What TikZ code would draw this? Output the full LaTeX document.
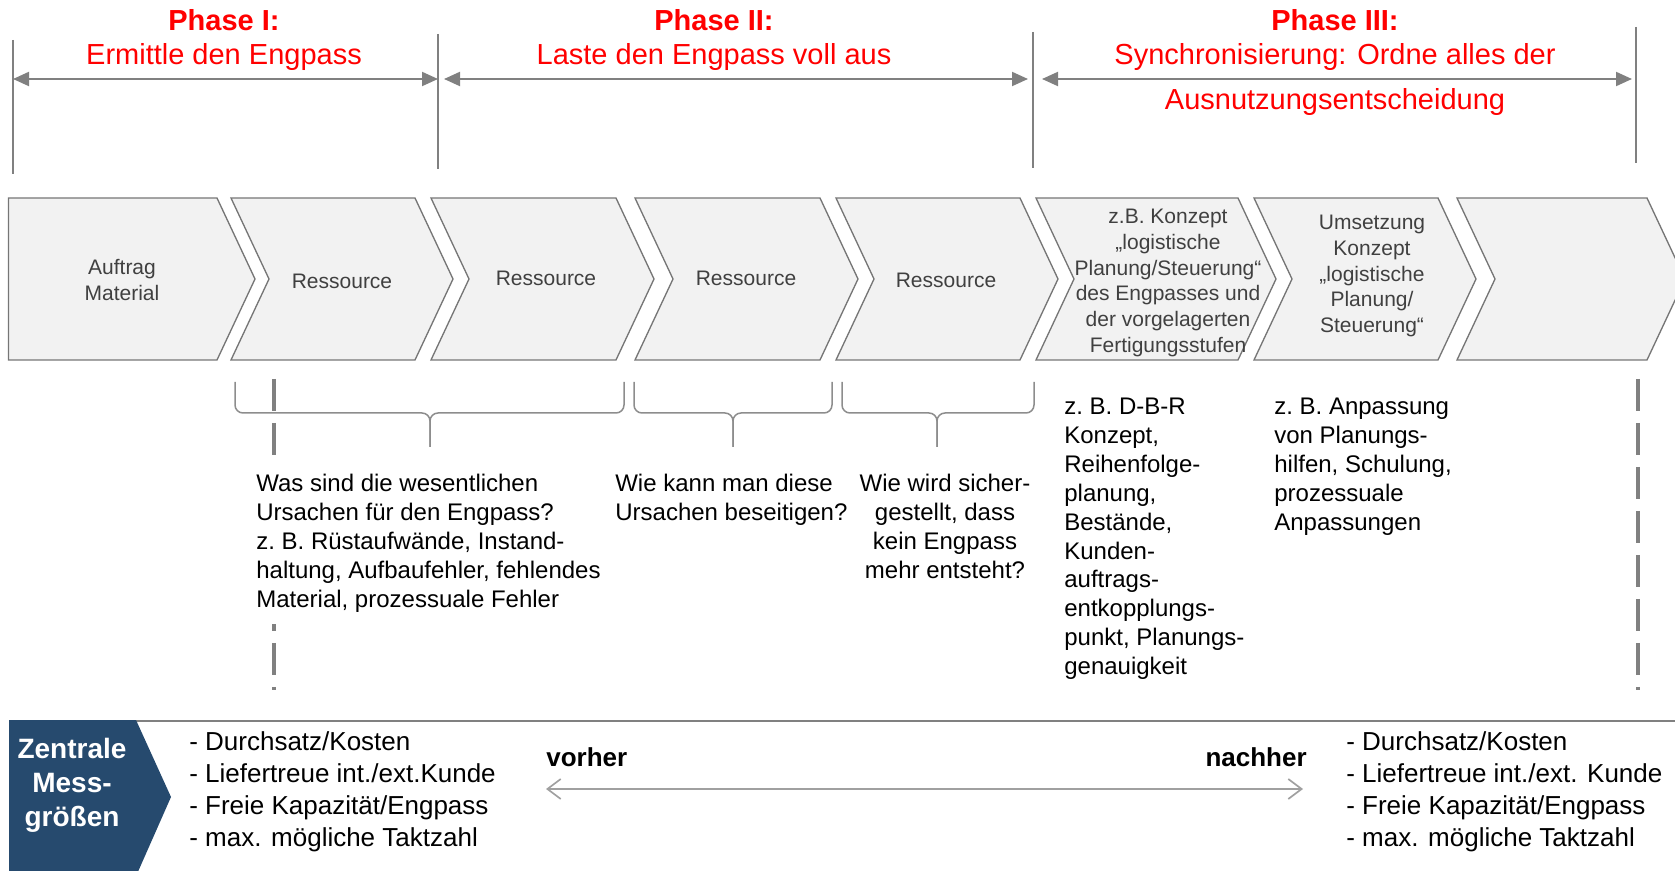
\documentclass[tikz,border=0pt]{standalone}
\usepackage{fontspec}
\setmainfont{Liberation Sans}
\usepackage{tikz}
\usetikzlibrary{arrows.meta, positioning}

\definecolor{phasered}{RGB}{255,0,0}
\definecolor{linegrey}{RGB}{128,128,128}
\definecolor{chevfill}{RGB}{242,242,242}
\definecolor{chevline}{RGB}{118,118,118}
\definecolor{chevtext}{RGB}{64,64,64}
\definecolor{boxblue}{RGB}{38,74,110}
\definecolor{lightgrey}{RGB}{160,160,160}

\tikzset{
  chevron/.style={draw=chevline, fill=chevfill, line width=0.8pt},
  chevlabel/.style={text=chevtext, align=center, inner sep=0pt, font=\fontsize{12.6}{15.4}\selectfont},
  phaseline/.style={draw=linegrey, line width=1pt},
  phasearrow/.style={draw=linegrey, line width=1.2pt, <->, >={Triangle[length=9.6pt,width=8.4pt]}},
  phasetitle/.style={text=phasered, anchor=base, inner sep=0pt, font=\fontsize{17.4}{20}\selectfont\bfseries},
  phasetext/.style={text=phasered, anchor=base, inner sep=0pt, font=\fontsize{17.4}{20}\selectfont},
  klammer/.style={draw=linegrey!90, line width=0.9pt, rounded corners=4.8pt},
  guide/.style={draw=linegrey, line width=2pt, dash pattern=on 19.2pt off 7.2pt},
  question/.style={align=left, inner sep=0pt, anchor=north west, font=\fontsize{14.4}{17.3}\selectfont},
  kennzahl/.style={align=left, inner sep=0pt, anchor=north west, font=\fontsize{15.6}{19.2}\selectfont},
}

\begin{document}
\begin{tikzpicture}[x=0.6pt, y=-0.6pt]
\useasboundingbox (0,0) rectangle (1675,871);

% Phase boundaries
\draw[phaseline] (13,40) -- (13,174);
\draw[phaseline] (438,34) -- (438,169);
\draw[phaseline] (1033,32) -- (1033,168);
\draw[phaseline] (1636,27) -- (1636,163);
\coordinate (p0) at (13,79);
\coordinate (p1) at (438,79);
\coordinate (p2) at (1033,79);
\coordinate (p3) at (1636,79);

% Phase arrows
\draw[phasearrow] (p0) -- (p1);
\draw[phasearrow, shorten <=3.6pt, shorten >=3pt] (p1) -- (p2);
\draw[phasearrow, shorten <=5.4pt, shorten >=2.4pt] (p2) -- (p3);

% Phase titles
\node[phasetitle] (t1) at (224,31) {Phase I:};
\node[phasetext] (s1) at (224,65) {Ermittle den Engpass};
\node[phasetitle] (t2) at (714,31) {Phase II:};
\node[phasetext] (s2) at (714,65) {Laste den Engpass voll aus};
\node[phasetitle] (t3) at (1335,31) {Phase III:};
\node[phasetext] (s3) at (1335,65) {Synchronisierung: Ordne alles der};
\node[phasetext] (s3b) at (1335,110) {Ausnutzungsentscheidung};

% Process chevrons
\draw[chevron] (8.5,198) -- (217,198) -- (255,279) -- (217,360) -- (8.5,360) -- cycle; % Auftrag
\draw[chevron] (231,198) -- (415,198) -- (453,279) -- (415,360) -- (231,360) -- (269,279) -- cycle;
\draw[chevron] (431,198) -- (616,198) -- (654,279) -- (616,360) -- (431,360) -- (469,279) -- cycle;
\draw[chevron] (635,198) -- (820,198) -- (858,279) -- (820,360) -- (635,360) -- (673,279) -- cycle;
\draw[chevron] (836,198) -- (1020,198) -- (1058,279) -- (1020,360) -- (836,360) -- (874,279) -- cycle;
\draw[chevron] (1036,198) -- (1238,198) -- (1276,279) -- (1238,360) -- (1036,360) -- (1074,279) -- cycle;
\draw[chevron] (1254,198) -- (1438,198) -- (1476,279) -- (1438,360) -- (1254,360) -- (1292,279) -- cycle;
\draw[chevron] (1457,198) -- (1647,198) -- (1685,279) -- (1647,360) -- (1457,360) -- (1495,279) -- cycle; % empty

% Labels inside the chevrons
\node[chevlabel] (auftrag) at (122,280) {Auftrag\\Material};
\node[chevlabel] (res1) at (342,281) {Ressource};
\node[chevlabel] (res2) at (546,278) {Ressource};
\node[chevlabel] (res3) at (746,278) {Ressource};
\node[chevlabel] (res4) at (946,280) {Ressource};
\node[chevlabel] (konzept) at (1168,283) {z.B. Konzept\\„logistische\\Planung/Steuerung“\\des Engpasses und\\der vorgelagerten\\Fertigungsstufen};
\node[chevlabel] (umsetzung) at (1372,276) {Umsetzung\\Konzept\\„logistische\\Planung/\\Steuerung“};

% Braces below the chevrons
\draw[klammer] (235,382) -- (235,413) -- (430,413) -- (430,447);
\draw[klammer] (624,382) -- (624,413) -- (430,413) -- (430,447);
\draw[klammer] (634,382) -- (634,413) -- (733,413) -- (733,447);
\draw[klammer] (832,382) -- (832,413) -- (733,413) -- (733,447);
\draw[klammer] (842,382) -- (842,413) -- (937,413) -- (937,447);
\draw[klammer] (1034,382) -- (1034,413) -- (937,413) -- (937,447);

% Dashed guide lines
\draw[guide] (274,379) -- (274,690);
\draw[guide] (1638,379) -- (1638,690);

% Questions and examples
\node[question, fill=white, inner xsep=0pt, inner ysep=7.2pt] (ursachen) at (256,462) {Was sind die wesentlichen\\Ursachen für den Engpass?\\z.\ B. Rüstaufwände, Instand-\\haltung, Aufbaufehler, fehlendes\\Material, prozessuale Fehler};
\node[question] (beseitigen) at (615,474) {Wie kann man diese\\Ursachen beseitigen?};
\node[question, anchor=north, align=center] (sicher) at (945,474) {Wie wird sicher-\\gestellt, dass\\kein Engpass\\mehr entsteht?};
\node[question] (dbr) at (1064,398) {z.\ B. D-B-R\\Konzept,\\Reihenfolge-\\planung,\\Bestände,\\Kunden-\\auftrags-\\entkopplungs-\\punkt, Planungs-\\genauigkeit};
\node[question] (anpassung) at (1274,398) {z.\ B. Anpassung\\von Planungs-\\hilfen, Schulung,\\prozessuale\\Anpassungen};

% Central measures
\draw[linegrey, line width=1.2pt] (136,721) -- (1675,721);
\fill[boxblue] (9,720) -- (136,720) -- (171,797) -- (137,874) -- (9,874) -- cycle;
\node[text=white, align=center, font=\fontsize{16.8}{20.4}\selectfont\bfseries] (zentral) at (72,785) {Zentrale\\Mess-\\größen};

\node[kennzahl] (vorliste) at (189,731) {- Durchsatz/Kosten\\- Liefertreue int./ext.Kunde\\- Freie Kapazität/Engpass\\- max. mögliche Taktzahl};
\node[kennzahl] (nachliste) at (1346,731) {- Durchsatz/Kosten\\- Liefertreue int./ext. Kunde\\- Freie Kapazität/Engpass\\- max. mögliche Taktzahl};

\node[anchor=base west, inner sep=0pt, font=\fontsize{15.6}{19}\selectfont\bfseries] (vorher) at (546,766) {vorher};
\node[anchor=base east, inner sep=0pt, font=\fontsize{15.6}{19}\selectfont\bfseries] (nachher) at (1307,766) {nachher};
\coordinate (va) at (546,789);
\coordinate (na) at (1303,789);
\draw[lightgrey, line width=1pt, <->, >={Straight Barb[length=8pt,width=12pt]}] (va) -- (na);

\end{tikzpicture}
\end{document}
